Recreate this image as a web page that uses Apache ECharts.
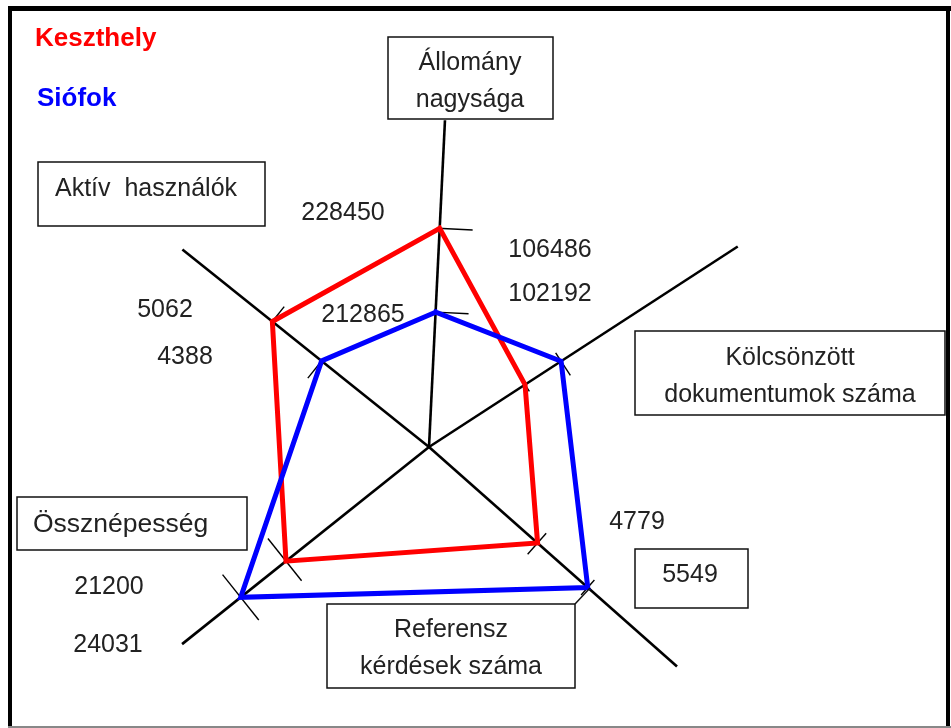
<!DOCTYPE html>
<html>
<head>
<meta charset="utf-8">
<script src="https://cdn.jsdelivr.net/npm/echarts@6/dist/echarts.min.js"></script>
<style>
html,body{margin:0;padding:0;background:#fff;}
#chart{width:951px;height:728px;}
</style>
</head>
<body>
<div id="chart"></div>
<script>
// ---- data ----
const categories = ['Állomány\nnagysága', 'Kölcsönzött\ndokumentumok száma', 'Referensz\nkérdések száma', 'Össznépesség', 'Aktív  használók'];
const seriesNames = ['Keszthely', 'Siófok'];
const keszthely = [228450, 102192, 4779, 21200, 5062];
const siofok = [212865, 106486, 5549, 24031, 4388];
// per-axis scale (value at centre, value at full radius)
const axisMin = [187800, 90760, 3113, 12268, 2918];
const axisMax = [256500, 127700, 7365, 30328, 6870];

// ---- layout ----
const CENTER = [429, 447];
const RADIUS = 370;
const axisAngle = [87.2, 33, 318.5, 218.6, 141.3];
const axisLength = [0.884, 0.995, 0.895, 0.854, 0.854];
const colors = {Keszthely: '#ff0000', 'Siófok': '#0000ff'};
const tickSpan = {
  Keszthely: [[-2, 33], [-16, 8], [-13, 15], [-25, 29], [0, 19]],
  'Siófok': [[0, 33], [-10, 17], [-10, 10], [-29, 29], [-22, 0]]
};
const TY = 2; // vertical text nudge
const valueLabelPos = {
  Keszthely: [[343, 211], [550, 292], [637, 520], [109, 585], [165, 308]],
  'Siófok': [[363, 313], [550, 248], [690, 573], [108, 643], [185, 355]]
};
const boxedValue = {'Siófok': [false, false, true, false, false], Keszthely: [false, false, false, false, false]};
const nameBoxes = [
  {rect: [388, 37, 165, 82], text: [470, 80], align: 'center', size: 25},
  {rect: [635, 331, 310, 84], text: [790, 375], align: 'center', size: 25},
  {rect: [327, 604, 248, 84], text: [451, 647], align: 'center', size: 25},
  {rect: [17, 497, 230, 53], text: [33, 523], align: 'left', size: 26.5},
  {rect: [38, 162, 227, 64], text: [55, 187], align: 'left', size: 25}
];
const FONT = '"Liberation Sans", Arial, sans-serif';
const TEXT_COLOR = '#222';

function norm(v, i) { return (v - axisMin[i]) / (axisMax[i] - axisMin[i]); }
function polyData(vals) {
  const d = vals.map((v, i) => [norm(v, i), axisAngle[i]]);
  d.push(d[0]);
  return d;
}
function tickData(name, vals) {
  return vals.map((v, i) => [norm(v, i), axisAngle[i], tickSpan[name][i][0], tickSpan[name][i][1]]);
}

const chart = echarts.init(document.getElementById('chart'), null, {renderer: 'canvas'});

const graphics = [];
// frame
graphics.push({type: 'rect', shape: {x: 8, y: 6, width: 4, height: 722}, style: {fill: '#000'}, silent: true});
graphics.push({type: 'rect', shape: {x: 8, y: 6, width: 943, height: 5}, style: {fill: '#000'}, silent: true});
graphics.push({type: 'rect', shape: {x: 946, y: 6, width: 4, height: 722}, style: {fill: '#000'}, silent: true});
graphics.push({type: 'rect', shape: {x: 8, y: 726, width: 943, height: 2}, style: {fill: '#888'}, silent: true});
// legend texts
graphics.push({type: 'text', x: 35, y: 37 + TY, style: {text: seriesNames[0], fill: colors[seriesNames[0]], font: 'bold 26px ' + FONT, textAlign: 'left', textVerticalAlign: 'middle'}});
graphics.push({type: 'text', x: 37, y: 97 + TY, style: {text: seriesNames[1], fill: colors[seriesNames[1]], font: 'bold 26px ' + FONT, textAlign: 'left', textVerticalAlign: 'middle'}});
// axis name boxes
categories.forEach((c, i) => {
  const b = nameBoxes[i];
  graphics.push({type: 'rect', z: 10, shape: {x: b.rect[0], y: b.rect[1], width: b.rect[2], height: b.rect[3]}, style: {fill: '#fff', stroke: '#111', lineWidth: 1.5}});
  graphics.push({type: 'text', z: 11, x: b.text[0], y: b.text[1] + TY, style: {text: c, fill: TEXT_COLOR, font: b.size + 'px ' + FONT, textAlign: b.align, textVerticalAlign: 'middle', lineHeight: 37}});
});
// connector for Referensz box
graphics.push({type: 'line', z: 9, shape: {x1: 575, y1: 604, x2: 590, y2: 588}, style: {stroke: '#111', lineWidth: 1.5}});
// value labels
seriesNames.forEach((n, si) => {
  const vals = si === 0 ? keszthely : siofok;
  vals.forEach((v, i) => {
    const p = valueLabelPos[n][i];
    if (boxedValue[n][i]) {
      graphics.push({type: 'rect', z: 10, shape: {x: 635, y: 549, width: 113, height: 59}, style: {fill: '#fff', stroke: '#111', lineWidth: 1.5}});
    }
    graphics.push({type: 'text', z: 11, x: p[0], y: p[1] + TY, style: {text: String(v), fill: TEXT_COLOR, font: '25px ' + FONT, textAlign: 'center', textVerticalAlign: 'middle'}});
  });
});

const option = {
  animation: false,
  backgroundColor: '#fff',
  polar: {center: CENTER, radius: RADIUS},
  angleAxis: {type: 'value', min: 0, max: 360, startAngle: 0, clockwise: false, show: false},
  radiusAxis: {type: 'value', min: 0, max: 1, show: false},
  series: [
    {
      type: 'custom', coordinateSystem: 'polar', silent: true, z: 1,
      data: axisLength.map((l, i) => [l, axisAngle[i]]),
      renderItem: function (params, api) {
        const c = api.coord([0, api.value(1)]);
        const e = api.coord([api.value(0), api.value(1)]);
        return {type: 'line', shape: {x1: c[0], y1: c[1], x2: e[0], y2: e[1]}, style: {stroke: '#000', lineWidth: 2.6}};
      }
    },
    ...seriesNames.map((n, si) => ({
      type: 'custom', coordinateSystem: 'polar', silent: true, z: 2,
      data: tickData(n, si === 0 ? keszthely : siofok),
      renderItem: function (params, api) {
        const p = api.coord([api.value(0), api.value(1)]);
        const th = api.value(1) * Math.PI / 180;
        const px = Math.sin(th), py = Math.cos(th);
        const a = api.value(2), b = api.value(3);
        return {type: 'line', shape: {x1: p[0] + a * px, y1: p[1] + a * py, x2: p[0] + b * px, y2: p[1] + b * py}, style: {stroke: '#000', lineWidth: 1.4}};
      }
    })),
    ...seriesNames.map((n, si) => ({
      name: n, type: 'line', coordinateSystem: 'polar', z: 3,
      data: polyData(si === 0 ? keszthely : siofok),
      symbol: 'none', smooth: false,
      lineStyle: {color: colors[n], width: 5, join: 'miter', cap: 'square'}
    }))
  ],
  graphic: graphics
};
chart.setOption(option);
</script>
</body>
</html>
